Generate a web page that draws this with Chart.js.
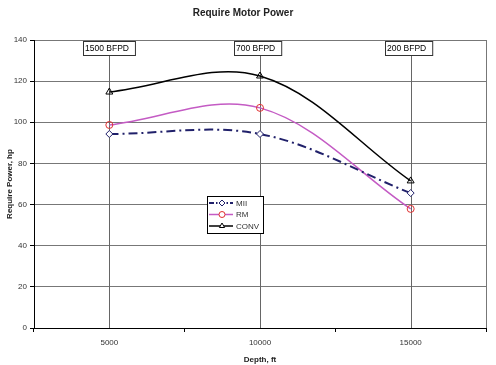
<!DOCTYPE html>
<html>
<head>
<meta charset="utf-8">
<script src="https://cdn.jsdelivr.net/npm/chart.js@4.4.0/dist/chart.umd.min.js"></script>
<style>
  html, body { margin: 0; padding: 0; background: #fff; }
  #wrap { width: 496px; height: 365px; position: relative; }
</style>
</head>
<body>
<div id="wrap"><canvas id="powerChart"></canvas></div>
<script>
// chart data
const depths = ['5000', '10000', '15000'];
const miiPower = [94.3, 94.3, 65.6];
const rmPower = [98.7, 107, 57.9];
const convPower = [114.7, 122.5, 71.5];
const rateLabels = ['1500 BFPD', '700 BFPD', '200 BFPD'];
const yTicks = [0, 20, 40, 60, 80, 100, 120, 140];

const FONT = 'Arial, "Liberation Sans", sans-serif';

// vertical rate markers, frame and inline legend
const extrasPlugin = {
    id: 'extras',
    beforeDatasetsDraw(chart) {
        const ctx = chart.ctx;
        const area = chart.chartArea;
        const x = chart.scales.x;
        ctx.save();
        // right frame
        ctx.strokeStyle = '#777';
        ctx.lineWidth = 1;
        ctx.beginPath();
        ctx.moveTo(area.right + 0.5, area.top);
        ctx.lineTo(area.right + 0.5, area.bottom);
        ctx.stroke();

        ctx.font = '8.5px ' + FONT;
        ctx.textBaseline = 'middle';
        rateLabels.forEach((lbl, i) => {
            const px = Math.round(x.getPixelForValue(i)) + 0.5;
            ctx.strokeStyle = '#666';
            ctx.beginPath();
            ctx.moveTo(px, area.top + 15);
            ctx.lineTo(px, area.bottom);
            ctx.stroke();
            const w = ctx.measureText(lbl).width + 8;
            const bx = Math.round(px - 27);
            ctx.fillStyle = '#fff';
            ctx.fillRect(bx, area.top + 1, w, 14);
            ctx.strokeStyle = '#333';
            ctx.strokeRect(bx + 0.5, area.top + 1.5, w, 14);
            ctx.fillStyle = '#000';
            ctx.textAlign = 'left';
            ctx.fillText(lbl, bx + 2, area.top + 8.5);
        });
        ctx.restore();
    },
    afterDatasetsDraw(chart) {
        const ctx = chart.ctx;
        const lx = 207, ly = 196, lw = 56, lh = 37;
        ctx.save();
        ctx.fillStyle = '#fff';
        ctx.fillRect(lx, ly, lw, lh);
        ctx.strokeStyle = '#000';
        ctx.lineWidth = 1;
        ctx.strokeRect(lx + 0.5, ly + 0.5, lw, lh);
        ctx.font = '8px ' + FONT;
        ctx.textBaseline = 'middle';
        ctx.textAlign = 'left';
        chart.data.datasets.forEach((ds, i) => {
            const y = ly + 7 + i * 11.5;
            ctx.strokeStyle = ds.borderColor;
            ctx.lineWidth = ds.borderWidth;
            ctx.setLineDash(ds.borderDash ? [5, 2, 1.5, 2] : []);
            ctx.beginPath();
            ctx.moveTo(lx + 2, y);
            ctx.lineTo(lx + 26, y);
            ctx.stroke();
            ctx.setLineDash([]);
            ctx.lineWidth = 1;
            ctx.fillStyle = '#fff';
            ctx.strokeStyle = ds.pointBorderColor;
            Chart.helpers.drawPoint(ctx, {
                pointStyle: ds.pointStyle, radius: 3, rotation: 0, borderWidth: 1
            }, lx + 15, y);
            ctx.fillStyle = '#333';
            ctx.fillText(ds.label, lx + 29, y + 0.5);
        });
        ctx.restore();
    }
};

const ctx = document.getElementById('powerChart').getContext('2d');
new Chart(ctx, {
    type: 'line',
    data: {
        labels: depths,
        datasets: [
            {
                label: 'MII',
                data: miiPower,
                borderColor: '#20206a',
                borderWidth: 2,
                borderDash: [9, 4, 2, 4],
                pointStyle: 'rectRot',
                pointRadius: 3.5,
                pointBorderColor: '#20206a',
                pointBackgroundColor: '#fff',
                pointBorderWidth: 1,
                tension: 0.35
            },
            {
                label: 'RM',
                data: rmPower,
                borderColor: '#c45bc4',
                borderWidth: 1.5,
                pointStyle: 'circle',
                pointRadius: 3.5,
                pointBorderColor: '#e03030',
                pointBackgroundColor: 'rgba(255,255,255,0)',
                pointBorderWidth: 1,
                tension: 0.35
            },
            {
                label: 'CONV',
                data: convPower,
                borderColor: '#000',
                borderWidth: 1.5,
                pointStyle: 'triangle',
                pointRadius: 4,
                pointBorderColor: '#000',
                pointBackgroundColor: 'rgba(255,255,255,0)',
                pointBorderWidth: 1,
                tension: 0.35
            }
        ]
    },
    options: {
        responsive: true,
        maintainAspectRatio: false,
        animation: false,
        layout: { padding: { left: 0, right: 10, top: 0, bottom: 0 } },
        plugins: {
            legend: { display: false },
            tooltip: { enabled: false },
            title: {
                display: true,
                text: 'Require Motor Power',
                color: '#222',
                font: { family: FONT, size: 10, weight: 'bold' },
                padding: { top: 7, bottom: 21 }
            }
        },
        scales: {
            x: {
                offset: true,
                grid: {
                    offset: true,
                    drawOnChartArea: false,
                    color: '#000',
                    tickLength: 4
                },
                border: { color: '#000', width: 1 },
                ticks: {
                    color: '#333',
                    font: { family: FONT, size: 8 },
                    padding: 6,
                    maxRotation: 0
                },
                title: {
                    display: true,
                    text: 'Depth, ft',
                    color: '#222',
                    font: { family: FONT, size: 8, weight: 'bold' },
                    padding: { top: 2, bottom: 0 }
                },
                afterFit(scale) { scale.height = 37; }
            },
            y: {
                min: 0,
                max: 140,
                afterBuildTicks(scale) { scale.ticks = yTicks.map(v => ({ value: v })); },
                grid: {
                    color: '#777',
                    tickLength: 4,
                    tickColor: '#000'
                },
                border: { color: '#000', width: 1 },
                ticks: {
                    color: '#333',
                    font: { family: FONT, size: 8 },
                    padding: 3
                },
                title: {
                    display: true,
                    text: 'Require Power, hp',
                    color: '#222',
                    font: { family: FONT, size: 8, weight: 'bold' },
                    padding: { top: 5, bottom: 2 }
                },
                afterFit(scale) { scale.width = 34; }
            }
        }
    },
    plugins: [extrasPlugin]
});
</script>
</body>
</html>
